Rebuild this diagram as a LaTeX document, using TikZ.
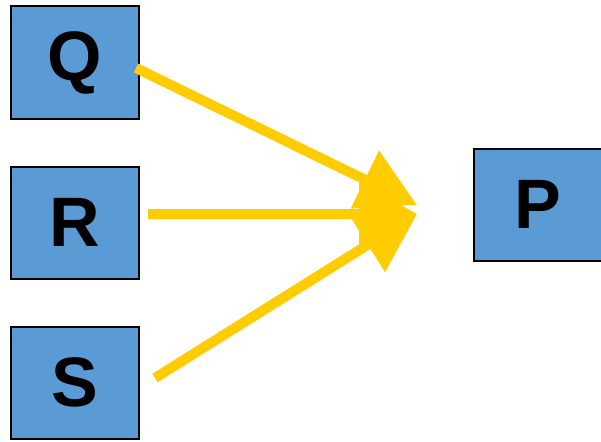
\documentclass[tikz,border=0pt]{standalone}
\usepackage{fontspec}
\setmainfont{Liberation Sans}
\usetikzlibrary{arrows.meta}
\definecolor{boxblue}{HTML}{5B9BD5}
\definecolor{arrowyellow}{HTML}{FFCC00}
\tikzset{
  letterbox/.style={draw=black, line width=2pt, fill=boxblue, minimum width=128pt, minimum height=112pt, inner sep=0pt, font=\bfseries\fontsize{70}{70}\selectfont},
  bigarrow/.style={draw=arrowyellow, line width=10pt, -{Triangle[length=58pt,width=62pt]}}
}
\begin{document}
\begin{tikzpicture}[x=1pt,y=-1pt]
\useasboundingbox (0,0) rectangle (601,441);
\node[letterbox] (Q) at (75,62.5) {Q};
\node[letterbox] (R) at (75,222.5) {R};
\node[letterbox] (S) at (75,382.5) {S};
\node[letterbox] (P) at (537.5,204.5) {P};
\coordinate (tq) at (417,205);
\coordinate (tr) at (417,214);
\coordinate (ts) at (417,214);
\coordinate (sq) at (136,68);
\coordinate (sr) at (148,214);
\coordinate (ss) at (155,378);
\draw[bigarrow] (sq) -- (tq);
\draw[bigarrow] (sr) -- (tr);
\draw[bigarrow] (ss) -- (ts);
\end{tikzpicture}
\end{document}
